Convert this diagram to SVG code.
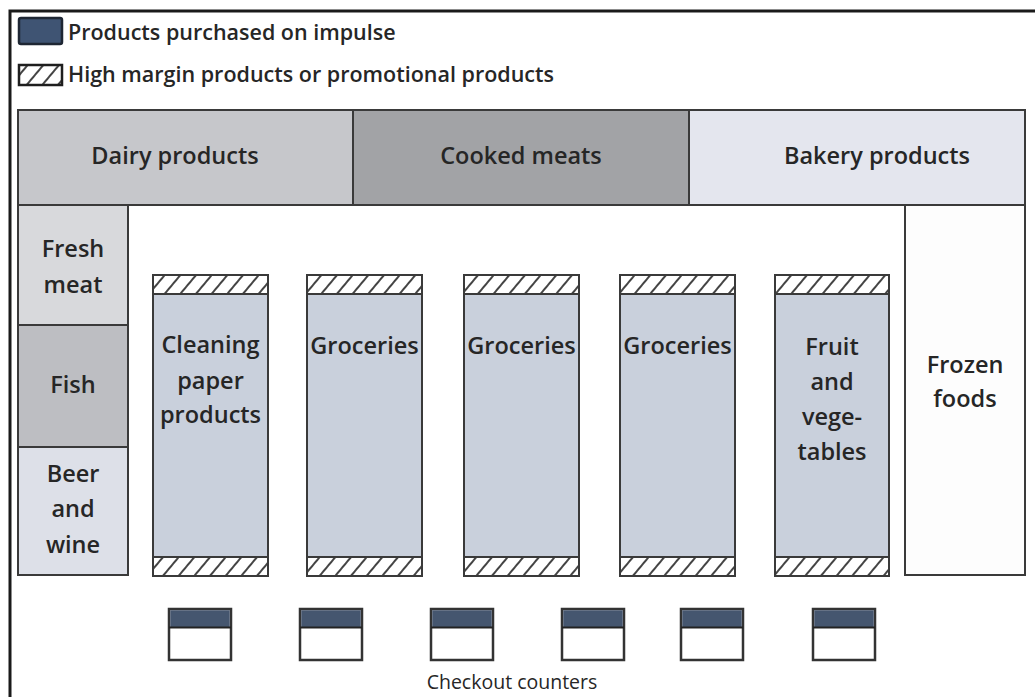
<svg xmlns="http://www.w3.org/2000/svg" width="1035" height="697" viewBox="0 0 1035 697">
<style>
text{font-family:"Open Sans","Noto Sans","Liberation Sans",sans-serif;fill:#262626;font-size:23.5px;font-weight:600;text-anchor:middle}
.lg{font-size:21.5px;text-anchor:start}
.b{stroke:#3a3a3a;stroke-width:2}
.aisle{fill:#c9d0dc}
.hatch{fill:url(#h)}
.ctr{fill:#ffffff;stroke:#333;stroke-width:2.5}
.band{fill:#45566f}
</style>
<defs>
<pattern id="h" patternUnits="userSpaceOnUse" width="12" height="12" patternTransform="rotate(40)">
<rect width="12" height="12" fill="#ffffff"/>
<line x1="3" y1="0" x2="3" y2="12" stroke="#444" stroke-width="2"/>
</pattern>
</defs>
<rect width="1035" height="697" fill="#ffffff"/>
<polyline points="10,697 10,11 1035,11" fill="none" stroke="#1a1a1a" stroke-width="3"/>

<g id="legend">
<rect x="19" y="18" width="43" height="26" rx="2" fill="#3f5473" stroke="#1e2633" stroke-width="2.5"/>
<text class="lg" x="68" y="40">Products purchased on impulse</text>
<rect x="19" y="65" width="43" height="20" class="hatch" stroke="#1e1e1e" stroke-width="2.5"/>
<text class="lg" x="68" y="82">High margin products or promotional products</text>
</g>

<g id="dairy"><rect x="18" y="110" width="335" height="95" fill="#c6c7cb" class="b"/><text x="175" y="164">Dairy products</text></g>
<g id="cooked-meats"><rect x="353" y="110" width="336" height="95" fill="#a2a3a6" class="b"/><text x="521" y="164">Cooked meats</text></g>
<g id="bakery"><rect x="689" y="110" width="336" height="95" fill="#e4e6ee" class="b"/><text x="877" y="164">Bakery products</text></g>

<g id="fresh-meat"><rect x="18" y="205" width="110" height="120" fill="#d8d9dc" class="b"/><text x="73" y="257">Fresh</text><text x="73" y="293">meat</text></g>
<g id="fish"><rect x="18" y="325" width="110" height="122" fill="#bdbec2" class="b"/><text x="73" y="393">Fish</text></g>
<g id="beer-wine"><rect x="18" y="447" width="110" height="128" fill="#dde0e8" class="b"/><text x="73" y="482">Beer</text><text x="73" y="517">and</text><text x="73" y="553">wine</text></g>
<g id="frozen"><rect x="905" y="205" width="120" height="370" fill="#fdfdfd" class="b"/><text x="965" y="373">Frozen</text><text x="965" y="407">foods</text></g>

<g id="aisle-1">
<rect x="153" y="275" width="115" height="301" class="aisle b"/>
<rect x="153" y="275" width="115" height="19" class="hatch b"/>
<rect x="153" y="557" width="115" height="19" class="hatch b"/>
<text x="210.5" y="353">Cleaning</text><text x="210.5" y="389">paper</text><text x="210.5" y="423">products</text>
</g>
<g id="aisle-2">
<rect x="307" y="275" width="115" height="301" class="aisle b"/>
<rect x="307" y="275" width="115" height="19" class="hatch b"/>
<rect x="307" y="557" width="115" height="19" class="hatch b"/>
<text x="364.5" y="354">Groceries</text>
</g>
<g id="aisle-3">
<rect x="464" y="275" width="115" height="301" class="aisle b"/>
<rect x="464" y="275" width="115" height="19" class="hatch b"/>
<rect x="464" y="557" width="115" height="19" class="hatch b"/>
<text x="521.5" y="354">Groceries</text>
</g>
<g id="aisle-4">
<rect x="620" y="275" width="115" height="301" class="aisle b"/>
<rect x="620" y="275" width="115" height="19" class="hatch b"/>
<rect x="620" y="557" width="115" height="19" class="hatch b"/>
<text x="677.5" y="354">Groceries</text>
</g>
<g id="aisle-5">
<rect x="775" y="275" width="114" height="301" class="aisle b"/>
<rect x="775" y="275" width="114" height="19" class="hatch b"/>
<rect x="775" y="557" width="114" height="19" class="hatch b"/>
<text x="832" y="355">Fruit</text><text x="832" y="390">and</text><text x="832" y="425">vege-</text><text x="832" y="460">tables</text>
</g>

<g id="checkout-counters">
<g id="counter-1"><rect x="169" y="609" width="62" height="51" class="ctr"/><rect x="170.25" y="610.25" width="59.5" height="17" class="band"/><line x1="169" y1="627.5" x2="231" y2="627.5" stroke="#222" stroke-width="2"/></g>
<g id="counter-2"><rect x="300" y="609" width="62" height="51" class="ctr"/><rect x="301.25" y="610.25" width="59.5" height="17" class="band"/><line x1="300" y1="627.5" x2="362" y2="627.5" stroke="#222" stroke-width="2"/></g>
<g id="counter-3"><rect x="431" y="609" width="62" height="51" class="ctr"/><rect x="432.25" y="610.25" width="59.5" height="17" class="band"/><line x1="431" y1="627.5" x2="493" y2="627.5" stroke="#222" stroke-width="2"/></g>
<g id="counter-4"><rect x="562" y="609" width="62" height="51" class="ctr"/><rect x="563.25" y="610.25" width="59.5" height="17" class="band"/><line x1="562" y1="627.5" x2="624" y2="627.5" stroke="#222" stroke-width="2"/></g>
<g id="counter-5"><rect x="681" y="609" width="62" height="51" class="ctr"/><rect x="682.25" y="610.25" width="59.5" height="17" class="band"/><line x1="681" y1="627.5" x2="743" y2="627.5" stroke="#222" stroke-width="2"/></g>
<g id="counter-6"><rect x="813" y="609" width="62" height="51" class="ctr"/><rect x="814.25" y="610.25" width="59.5" height="17" class="band"/><line x1="813" y1="627.5" x2="875" y2="627.5" stroke="#222" stroke-width="2"/></g>
<text x="512" y="689" style="font-size:19.5px;font-weight:400">Checkout counters</text>
</g>
<g id="connectors"/>
</svg>
